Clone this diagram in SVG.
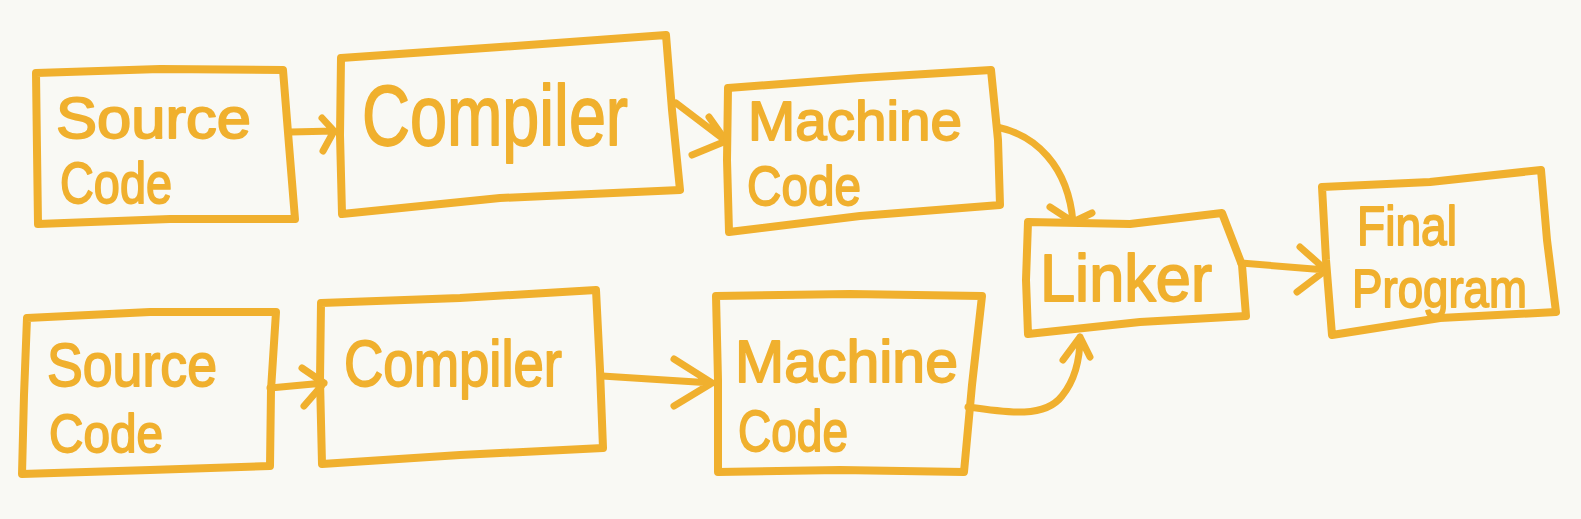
<svg xmlns="http://www.w3.org/2000/svg" width="1581" height="519" viewBox="0 0 1581 519">
<style>
.box{fill:none;stroke:#F0B02E;stroke-width:8;stroke-linejoin:round;stroke-linecap:round}
.con{fill:none;stroke:#F0B02E;stroke-width:7;stroke-linejoin:round;stroke-linecap:round}
.t{font-family:"Liberation Sans",Arial,sans-serif;fill:#F0B02E;stroke:#F0B02E;stroke-width:1.8;stroke-linejoin:round}
</style>
<rect width="1581" height="519" fill="#F9F9F4"/>
<g id="connectors">
<path class="con" d="M291,132 L334,131 M322,118 L334,131 L323,151"/>
<path class="con" d="M676,103 L726,141 M709,117 L726,141 L692,155"/>
<path class="con" d="M997,127 C1035,135 1068,165 1073,222 M1050,207 L1073,222 L1092,213"/>
<path class="con" d="M968,407 C1010,413 1045,418 1062,396 C1075,380 1080,358 1080,337 M1063,360 L1080,337 L1090,357"/>
<path class="con" d="M1241,263 L1326,270 M1300,247 L1326,270 L1297,292"/>
<path class="con" d="M270,388 L324,383 M302,368 L324,383 L304,406"/>
<path class="con" d="M602,376 L712,383 M674,359 L712,383 L674,406"/>
</g>
<g id="source1">
<path class="box" d="M36,73 L160,69 L283,70 L289,145 L295,219 L170,219 L38,224 L37,150 Z"/>
<text class="t" x="56" y="138" font-size="57" textLength="195" lengthAdjust="spacingAndGlyphs">Source</text>
<text class="t" x="60" y="203" font-size="57" textLength="112" lengthAdjust="spacingAndGlyphs">Code</text>
</g>
<g id="compiler1">
<path class="box" d="M341,58 L500,47 L666,35 L672,110 L680,190 L500,198 L342,214 L340,135 Z"/>
<text class="t" x="362" y="145" font-size="86" textLength="266" lengthAdjust="spacingAndGlyphs">Compiler</text>
</g>
<g id="machine1">
<path class="box" d="M728,88 L860,78 L991,70 L998,140 L1000,205 L860,216 L729,232 L727,160 Z"/>
<text class="t" x="748" y="140" font-size="56" textLength="214" lengthAdjust="spacingAndGlyphs">Machine</text>
<text class="t" x="747" y="205" font-size="56" textLength="114" lengthAdjust="spacingAndGlyphs">Code</text>
</g>
<g id="linker">
<path class="box" d="M1028,222 L1130,224 L1222,213 L1242,265 L1246,316 L1140,322 L1028,334 L1026,280 Z"/>
<text class="t" x="1040" y="301" font-size="66" textLength="172" lengthAdjust="spacingAndGlyphs">Linker</text>
</g>
<g id="final">
<path class="box" d="M1322,187 L1430,182 L1541,170 L1547,240 L1556,312 L1440,318 L1332,335 L1326,260 Z"/>
<text class="t" x="1357" y="245" font-size="55" textLength="100" lengthAdjust="spacingAndGlyphs">Final</text>
<text class="t" x="1352" y="307" font-size="54" textLength="175" lengthAdjust="spacingAndGlyphs">Program</text>
</g>
<g id="source2">
<path class="box" d="M27,318 L150,312 L276,312 L271,390 L270,466 L150,470 L22,474 L24,395 Z"/>
<text class="t" x="47" y="386" font-size="62" textLength="170" lengthAdjust="spacingAndGlyphs">Source</text>
<text class="t" x="49" y="452" font-size="54" textLength="114" lengthAdjust="spacingAndGlyphs">Code</text>
</g>
<g id="compiler2">
<path class="box" d="M321,303 L460,298 L596,290 L600,370 L603,448 L460,455 L322,464 L320,380 Z"/>
<text class="t" x="344" y="386" font-size="64" textLength="218" lengthAdjust="spacingAndGlyphs">Compiler</text>
</g>
<g id="machine2">
<path class="box" d="M716,296 L850,294 L982,296 L972,385 L964,472 L840,470 L718,472 L718,380 Z"/>
<text class="t" x="735" y="382" font-size="60" textLength="223" lengthAdjust="spacingAndGlyphs">Machine</text>
<text class="t" x="738" y="451" font-size="58" textLength="110" lengthAdjust="spacingAndGlyphs">Code</text>
</g>
</svg>
